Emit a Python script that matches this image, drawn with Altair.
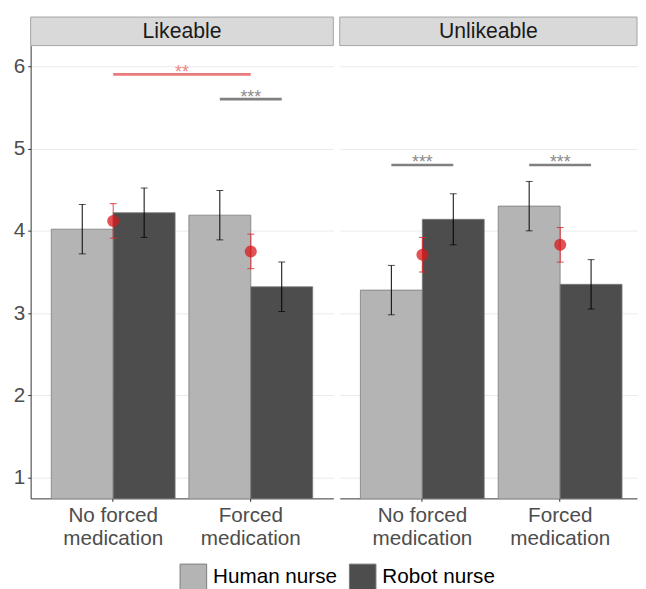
import altair as alt
import pandas as pd

FONT = "Liberation Sans"

panels = ["Likeable", "Unlikeable"]
conditions = ["No forced|medication", "Forced|medication"]
nurses = ["Human nurse", "Robot nurse"]

# bars: one entry per (panel, condition, nurse)
bar_panel = ["Likeable"] * 4 + ["Unlikeable"] * 4
bar_cond = [conditions[0], conditions[0], conditions[1], conditions[1]] * 2
bar_nurse = nurses * 4
bar_mean = [4.02, 4.22, 4.19, 3.32, 3.28, 4.14, 4.30, 3.35]
bar_err = [0.30, 0.30, 0.30, 0.30, 0.30, 0.31, 0.30, 0.30]

# red points: condition means over both nurses
pt_panel = ["Likeable", "Likeable", "Unlikeable", "Unlikeable"]
pt_cond = [conditions[0], conditions[1], conditions[0], conditions[1]]
pt_mean = [4.12, 3.75, 3.71, 3.83]
pt_err = [0.21, 0.21, 0.21, 0.21]

# significance between nurses inside one condition
sigw_panel = ["Likeable", "Unlikeable", "Unlikeable"]
sigw_cond = [conditions[1], conditions[0], conditions[1]]
sigw_y = [5.6, 4.8, 4.8]
sigw_label = ["***", "***", "***"]

# significance between conditions
sigb_panel = ["Likeable"]
sigb_y = [5.9]
sigb_label = ["**"]

bars_df = pd.DataFrame({"panel": bar_panel, "cond": bar_cond, "nurse": bar_nurse,
                        "mean": bar_mean, "err": bar_err})
bars_df["lo"] = bars_df["mean"] - bars_df["err"]
bars_df["hi"] = bars_df["mean"] + bars_df["err"]

pts_df = pd.DataFrame({"panel": pt_panel, "cond": pt_cond, "mean": pt_mean, "err": pt_err})
pts_df["lo"] = pts_df["mean"] - pts_df["err"]
pts_df["hi"] = pts_df["mean"] + pts_df["err"]

sigw_rows = []
for i, (p, c, y, l) in enumerate(zip(sigw_panel, sigw_cond, sigw_y, sigw_label)):
    for n in nurses:
        sigw_rows.append({"panel": p, "cond": c, "nurse": n, "y": y, "label": l, "id": i})
sigw_df = pd.DataFrame(sigw_rows)
sigw_txt = pd.DataFrame({"panel": sigw_panel, "cond": sigw_cond, "y": sigw_y, "label": sigw_label})

sigb_rows = []
for i, (p, y, l) in enumerate(zip(sigb_panel, sigb_y, sigb_label)):
    for c in conditions:
        sigb_rows.append({"panel": p, "cond": c, "y": y, "label": l, "id": i})
sigb_df = pd.DataFrame(sigb_rows)
sigb_txt = pd.DataFrame({"panel": sigb_panel, "cond": [conditions[0]] * len(sigb_panel),
                         "y": sigb_y, "label": sigb_label})

HEIGHT = 460
YSCALE = alt.Scale(domain=[0.75, 6.25], nice=False, zero=False)
OFFSCALE = alt.Scale(paddingInner=0, paddingOuter=0)


def panel(name, width, xscale, left):
    b = bars_df[bars_df.panel == name]
    p = pts_df[pts_df.panel == name]
    sw = sigw_df[sigw_df.panel == name]
    swt = sigw_txt[sigw_txt.panel == name]
    sb = sigb_df[sigb_df.panel == name]
    sbt = sigb_txt[sigb_txt.panel == name]

    if left:
        yaxis = alt.Axis(values=[1, 2, 3, 4, 5, 6], title=None, labelFontSize=21,
                         labelColor="#4d4d4d", tickSize=3, tickColor="#333333",
                         domainColor="#333333", grid=True, gridColor="#ebebeb",
                         labelPadding=3, labelFont=FONT)
    else:
        yaxis = alt.Axis(values=[1, 2, 3, 4, 5, 6], title=None, labels=False, ticks=False,
                         domain=False, grid=True, gridColor="#ebebeb")
    xaxis = alt.Axis(title=None, labelExpr="split(datum.label, '|')",
                     labelFontSize=21, labelColor="#4d4d4d", labelLineHeight=23.5,
                     labelAngle=0, tickSize=3, tickColor="#333333",
                     domainColor="#333333", grid=False, labelPadding=3,
                     labelFont=FONT)

    def X(**kw):
        return alt.X("cond:N", sort=conditions, scale=xscale, axis=xaxis, title=None, **kw)

    def Y(field):
        return alt.Y(field, scale=YSCALE, axis=yaxis, title=None)

    xoff = alt.XOffset("nurse:N", sort=nurses, scale=OFFSCALE)

    bars = alt.Chart(b).mark_bar(stroke="#7a7a7a", strokeWidth=0.8, clip=True).encode(
        x=X(), xOffset=xoff, y=Y("mean:Q"),
        color=alt.Color("nurse:N", scale=alt.Scale(domain=nurses, range=["#b4b4b4", "#4d4d4d"]),
                        legend=alt.Legend(title=None, orient="none", direction="horizontal",
                                          legendX=151.3, legendY=526, labelFontSize=21,
                                          labelFont=FONT, labelColor="#000000",
                                          symbolType="square", symbolSize=729,
                                          symbolStrokeColor="#7a7a7a", symbolStrokeWidth=1,
                                          columnPadding=9, labelOffset=6, labelLimit=300)),
    )
    err = alt.Chart(b).mark_rule(color="black", strokeWidth=1).encode(
        x=X(), xOffset=xoff, y=Y("lo:Q"), y2="hi:Q")
    caps = alt.Chart(b).transform_fold(["lo", "hi"], as_=["k", "v"]).mark_tick(
        color="black", thickness=1, size=7).encode(
        x=X(), xOffset=xoff, y=Y("v:Q"))

    rerr = alt.Chart(p).mark_rule(color="#e0262b", strokeWidth=1, opacity=0.85).encode(
        x=X(), y=Y("lo:Q"), y2="hi:Q")
    rcaps = alt.Chart(p).transform_fold(["lo", "hi"], as_=["k", "v"]).mark_tick(
        color="#e0262b", thickness=1, size=7, opacity=0.85).encode(
        x=X(), y=Y("v:Q"))
    rpts = alt.Chart(p).mark_circle(size=150, color="#d7191c", opacity=0.75).encode(
        x=X(), y=Y("mean:Q"))

    layers = [bars, err, caps, rerr, rcaps, rpts]

    if len(swt):
        layers.append(alt.Chart(sw).mark_line(color="#808080", strokeWidth=2.7).encode(
            x=X(), xOffset=xoff, y=Y("y:Q"), detail="id:N"))
        layers.append(alt.Chart(swt).mark_text(color="#8c8c8c", fontSize=18, font=FONT,
                                               baseline="alphabetic", dy=3.5).encode(
            x=X(), y=Y("y:Q"), text="label:N"))
    if len(sbt):
        layers.append(alt.Chart(sb).mark_line(color="#ea7b7d", strokeWidth=2.7).encode(
            x=X(), y=Y("y:Q"), detail="id:N"))
        layers.append(alt.Chart(sbt).mark_text(color="#ee8585", fontSize=18, font=FONT,
                                               baseline="alphabetic", dy=3.5, dx=7).encode(
            x=X(bandPosition=1), y=Y("y:Q"), text="label:N"))

    strip_df = pd.DataFrame({"panel": [name]})
    strip = alt.Chart(strip_df).mark_rect(fill="#d9d9d9", stroke="#a3a3a3", strokeWidth=1).encode(
        x=alt.value(0), x2=alt.value(width), y=alt.value(-29), y2=alt.value(0))
    strip_txt = alt.Chart(strip_df).mark_text(fontSize=21.5, font=FONT, color="#1a1a1a",
                                              baseline="middle").encode(
        x=alt.value(width / 2), y=alt.value(-14), text="panel:N")
    layers += [strip, strip_txt]

    return alt.layer(*layers).properties(width=width, height=HEIGHT)


left_scale = alt.Scale(paddingInner=0.1, paddingOuter=0.15)
right_scale = alt.Scale(paddingInner=0.1, paddingOuter=0.1286, align=0.583)

chart = alt.hconcat(
    panel("Likeable", 307.5, left_scale, True),
    panel("Unlikeable", 302, right_scale, False),
    spacing=5,
).properties(
    padding={"left": 5, "top": 3.5, "right": 0, "bottom": 0}
).configure(font=FONT).configure_view(stroke=None)

chart.save("out.html", embed_options={"renderer": "svg", "actions": False})
